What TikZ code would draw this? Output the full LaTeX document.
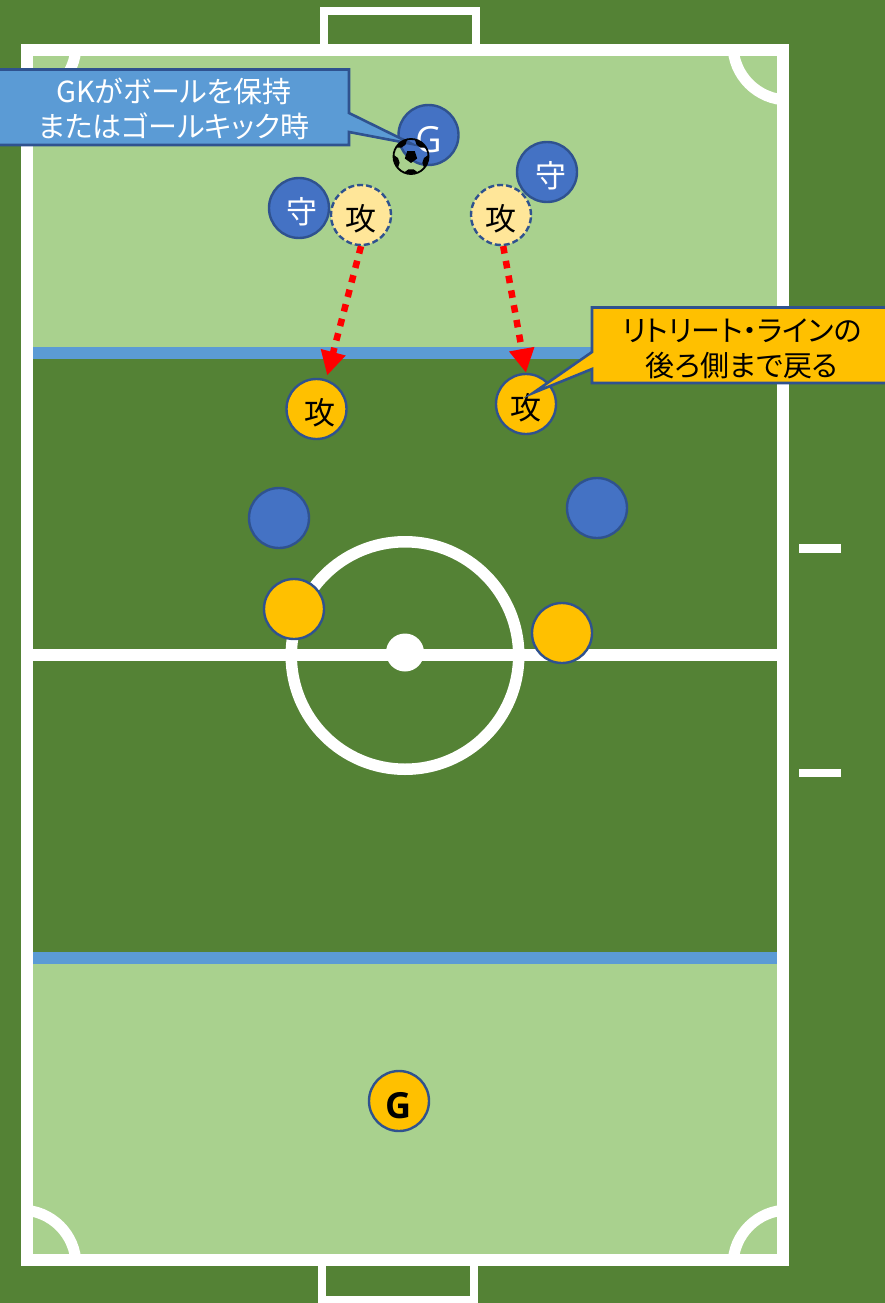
\documentclass[tikz,border=0pt]{standalone}
\usepackage{fontspec}
\setmainfont{Noto Sans CJK JP}[RawFeature={+palt}]
\newfontfamily\keeperfont{Open Sans}
\usetikzlibrary{arrows.meta,calc}
\definecolor{pitchdark}{RGB}{84,130,53}
\definecolor{pitchlight}{RGB}{169,209,142}
\definecolor{linezone}{RGB}{91,155,213}
\definecolor{teamblue}{RGB}{68,114,196}
\definecolor{teamedge}{RGB}{47,82,143}
\definecolor{teamorange}{RGB}{255,192,0}
\definecolor{teampale}{RGB}{255,230,153}
\tikzset{
    % Players
    player/.style={
        circle, draw=teamedge, minimum size=60pt, inner sep=0pt,
        line width=2.4pt, font=\fontsize{31}{31}\selectfont,
        text height=30pt, text depth=0pt
    },
    defender/.style={player, fill=teamblue, text=white},
    attacker/.style={player, fill=teamorange, text=black},
    ghost/.style={player, fill=teampale, text=black, dashed, dash pattern=on 6pt off 3pt},
    % Pitch markings
    markline/.style={draw=white, line width=12pt},
    goalline/.style={draw=white, line width=8pt},
    % Callouts
    callout/.style={draw=teamedge, line width=2.6pt, line join=miter},
    calltext/.style={align=center, inner sep=0pt, font=\fontsize{29}{35}\selectfont},
}
\begin{document}
\begin{tikzpicture}[x=1pt,y=-1pt,
   retreat/.style={-{Triangle[length=24pt,width=24pt]},line width=6.5pt,red,
                   dash pattern=on 7.5pt off 7.5pt}]
  \useasboundingbox (0,0) rectangle (885,1303);
  \fill[pitchdark] (0,0) rectangle (885,1303);
  % areas
  \fill[pitchlight] (26,50) rectangle (783,353);
  \fill[pitchlight] (26,958) rectangle (783,1260);
  \fill[linezone] (26,347) rectangle (783,359);
  \fill[linezone] (26,952) rectangle (783,964);
  % goals
  \draw[goalline] (324,44) -- (324,10.7) -- (475.5,10.7) -- (475.5,44);
  \draw[goalline] (322,1266) -- (322,1300) -- (473.5,1300) -- (473.5,1266);
  % corners
  \begin{scope}
    \clip (26,50) rectangle (783,1260);
    \draw[markline,line width=11pt] (21,45) circle (55);
    \draw[markline,line width=11pt] (788,45) circle (55);
    \draw[markline,line width=11pt] (21,1265) circle (55);
    \draw[markline,line width=11pt] (788,1265) circle (55);
  \end{scope}
  % pitch lines
  \draw[markline] (26.5,50) rectangle (783,1260);
  \draw[markline] (26.5,655) -- (783,655);
  \draw[markline,line width=11.5pt] (405,655.5) circle (113.75);
  \fill[white] (405,652.5) circle (19);
  \fill[white] (799,544) rectangle (841,552.5);
  \fill[white] (799,769) rectangle (841,777);
  % players
  \node[ghost] (atkl) at (361,215) {攻};
  \node[ghost] (atkr) at (501,215) {攻};
  \node[defender,font=\fontsize{36}{36}\keeperfont,text height=36pt] (keeper) at (428.5,135) {G};
  \node[defender] (defr) at (547,172) {\kern7pt 守};
  \node[defender] (defl) at (299,208) {\kern6pt 守};
  \node[attacker] (backl) at (316.5,409) {\kern6pt 攻};
  \node[attacker] (backr) at (526,404) {攻};
  \node[defender] (midl) at (279,518) {};
  \node[defender] (midr) at (597,508) {};
  \node[attacker] (frontl) at (294,609) {};
  \node[attacker] (frontr) at (562,633) {};
  \node[attacker,font=\fontsize{36}{36}\keeperfont\bfseries,text height=34pt] (ownkeeper) at (399,1101) {G};
  \draw[retreat,shorten >=4pt] (atkl.270) -- (backl.72);
  \draw[retreat] (atkr.274) -- (backr.90);
  % callouts
  \coordinate (tipgk) at (412,144);
  \coordinate (tipback) at (533,393);
  \draw[callout,fill=linezone] (-2,69.5) -- (349,69.5) -- (349,113) -- (tipgk)
    -- (349,132) -- (349,145) -- (-2,145) -- cycle;
  \draw[callout,fill=teamorange] (592,307.5) -- (887,307.5) -- (887,383) -- (592,383)
    -- (592,369) -- (tipback) -- (592,352) -- cycle;
  \node[calltext,text=white] (gktext) at (174,109) {GKがボールを保持\\またはゴールキック時};
  \node[calltext,text=black] (backtext) at (742,349) {リトリート・ラインの\\後ろ側まで戻る};
  % ball
  \begin{scope}[shift={(411,156.5)}]
    \clip (0,0) circle (17.5);
    \fill[black] (90:6.5) -- (162:6.5) -- (234:6.5) -- (306:6.5) -- (18:6.5) -- cycle;
    \foreach \a in {90,162,234,306,18}
      \fill[black] (\a-26:19) -- (\a+26:19) -- (\a+11:13) -- (\a-11:13) -- cycle;
  \end{scope}
  \draw[black,line width=1.8pt] (411,156.5) circle (17.5);
\end{tikzpicture}
\end{document}
